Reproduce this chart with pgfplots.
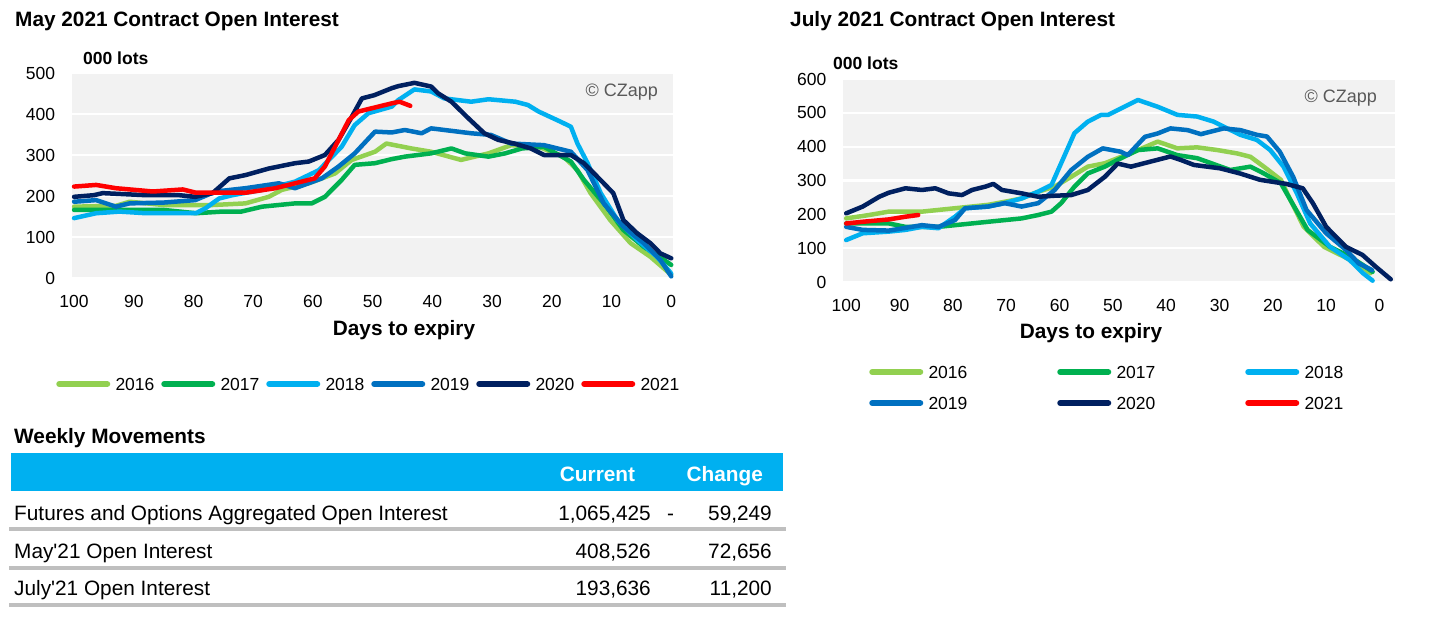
\documentclass[border=0pt]{standalone}
\usepackage{pgfplots}
\pgfplotsset{compat=1.18}
\usepackage{fontspec}
\setmainfont{Liberation Sans}
\newfontfamily\plainrm{Liberation Sans}
\definecolor{c16}{HTML}{92D050}
\definecolor{c17}{HTML}{00B050}
\definecolor{c18}{HTML}{00B0F0}
\definecolor{c19}{HTML}{0070C0}
\definecolor{c20}{HTML}{002060}
\definecolor{c21}{HTML}{FF0000}
\definecolor{bgc}{HTML}{F2F2F2}
\definecolor{tgray}{HTML}{BFBFBF}
\definecolor{cz}{HTML}{595959}
\newcommand{\tfont}{\bfseries\fontsize{20.8bp}{24bp}\selectfont}
\newcommand{\lfont}{\bfseries\fontsize{17.5bp}{20bp}\selectfont}
\newcommand{\nfont}{\fontsize{17.5bp}{20bp}\selectfont}
\newcommand{\rfont}{\fontsize{20.8bp}{24bp}\selectfont}
\pgfplotsset{
 oi/.style={
  scale only axis, x dir=reverse, clip=false,
  axis background/.style={fill=bgc},
  axis line style={draw=none},
  tick style={draw=none},
  ymajorgrids, major grid style={white, line width=2.2bp},
  xtick={0,10,...,100},
  /pgf/number format/assume math mode=true,
  tick label style={font=\nfont, text=black},
  yticklabel style={anchor=east, inner sep=0pt, xshift=-16.5bp},
  xticklabel style={anchor=north, inner sep=0pt, yshift=-17bp},
  every axis plot/.append style={line width=4.5bp, line join=round, line cap=round},
  legend image code/.code={\path (0bp,0bp) (54bp,0bp);\draw[#1, line width=6bp, line cap=round] (3bp,0bp) -- (51bp,0bp);},
 }
}
\begin{document}
\begin{tikzpicture}
\path[use as bounding box] (0bp,0bp) rectangle (1450bp,-640bp);
% ---------------- May chart
\begin{axis}[oi, width=601.3bp, height=205bp, at={(71.7bp,-278bp)}, anchor=south west,
  xmin=-0.3, xmax=100.4, ymin=0, ymax=500, ytick={0,100,...,500},
  legend columns=6,
  legend style={at={(-0.0294,-0.517)}, anchor=west, draw=none, fill=none, inner sep=0pt, outer sep=0pt,
    nodes={inner xsep=0pt, inner ysep=0pt, text width=39bp, text height=12.5bp, text depth=0pt, font=\nfont},
    /tikz/every odd column/.append style={column sep=3bp},
    /tikz/every even column/.append style={column sep=4.5bp}}]
\addplot[c16] coordinates {(100,174)(93,176)(90.7,186)(85,178)(76.8,178)(71.3,182)(67.4,198)(65.2,215)(60.7,231)(56.3,255)(53.5,288)(49.6,308)(47.7,328)(43.5,316)(40.2,308)(35.2,288)(30.6,304)(26.8,324)(22.2,320)(18,296)(15.7,263)(13.5,207)(10.2,141)(6.8,85)(3.5,52)(0,8)};
\addplot[c17] coordinates {(100,166)(90,166)(85,166)(79.6,158)(75.2,162)(72,162)(68.5,174)(63,182)(60.2,182)(58,198)(55.2,239)(53,276)(49.6,280)(46.8,290)(44.6,296)(40.2,304)(36.8,316)(34.5,304)(30.6,296)(27.8,304)(25,316)(21.3,320)(16.8,284)(14.6,239)(11.3,182)(8,117)(4.6,76)(1.2,44)(0,32)};
\addplot[c18] coordinates {(100,146)(96.3,158)(92.4,162)(88,158)(79.6,158)(78,170)(75.7,194)(73.5,202)(68.5,215)(63,235)(59,263)(55.2,320)(53,373)(50.7,402)(46.8,418)(45.7,434)(43,460)(40.2,455)(38,438)(33.5,430)(30.6,436)(26.1,430)(24,422)(22.2,406)(18.5,381)(16.8,369)(15.7,328)(14,280)(11.8,207)(9,141)(5.7,93)(2.4,52)(0,11)};
\addplot[c19] coordinates {(100,186)(96.3,190)(93,174)(90.7,182)(85,184)(79.7,190)(76.3,211)(71.3,219)(65.7,231)(63,219)(58.5,243)(55.7,272)(53,304)(49.6,357)(46.8,355)(44.6,361)(41.8,353)(40.2,365)(33.5,353)(30.2,349)(26.8,328)(21.3,324)(16.8,308)(14,263)(11.3,182)(8,125)(4.6,85)(1.8,44)(0,4)};
\addplot[c20] coordinates {(100,198)(96.7,202)(95.2,207)(88,202)(82.4,202)(79.7,198)(76.8,207)(74,243)(71.3,251)(67.4,267)(63,280)(60.7,284)(58,300)(55.7,337)(53.5,393)(51.8,438)(49.7,446)(46.8,463)(45.7,468)(43,476)(40.2,467)(39,450)(36.8,430)(34,390)(31.3,353)(29,337)(26.3,328)(23.5,316)(21.3,300)(16.8,300)(14.6,280)(11.3,231)(9.7,207)(8,141)(5.7,109)(3.5,85)(1.8,60)(0,48)};
\addplot[c21] coordinates {(100,223)(96.3,227)(93,219)(86.8,211)(81.8,216)(79.6,208)(71.3,208)(66.3,219)(63,231)(59.7,243)(58,272)(55.7,337)(54,385)(52.4,406)(46.8,426)(45.5,430)(43.7,420)};
\legend{2016,2017,2018,2019,2020,2021}
\end{axis}
% ---------------- July chart
\begin{axis}[oi, width=552bp, height=203bp, at={(843bp,-282bp)}, anchor=south west,
  xmin=-2.9, xmax=100.6, ymin=0, ymax=600, ytick={0,100,...,600},
  legend columns=3,
  legend style={at={(0.0435,-0.5197)}, anchor=west, draw=none, fill=none, inner sep=0pt, outer sep=0pt,
    nodes={inner xsep=0pt, inner ysep=0pt, text width=124bp, text height=12.5bp, text depth=0pt, font=\nfont},
    /tikz/every odd column/.append style={column sep=3bp},
    /tikz/every even column/.append style={column sep=2.5bp},
    /tikz/row sep=18.5bp}]
\addplot[c16] coordinates {(100,188)(95.7,198)(92,208)(85.8,208)(79.6,218)(73.4,228)(70.3,237)(67.1,247)(64,267)(60.9,282)(57.8,311)(54.7,341)(51.5,351)(49.1,366)(46,385)(41.6,415)(37.9,395)(34.2,398)(30.4,390)(26.7,380)(24.2,370)(21.7,341)(18.5,302)(16.7,242)(14.2,163)(10.4,104)(6.7,75)(4.2,55)(1.7,26)};
\addplot[c17] coordinates {(100,173)(92,173)(88.9,163)(82.7,163)(79.6,168)(73.4,178)(67.1,188)(64,198)(61.5,208)(59.7,233)(57.2,282)(54.7,321)(51.5,341)(49.1,361)(45.3,390)(41.6,395)(37.9,375)(34.2,366)(28,331)(24.2,341)(21.7,321)(18.5,292)(16,223)(13.5,154)(9.3,104)(5.6,75)(3.1,50)(1.3,30)};
\addplot[c18] coordinates {(100,124)(96.9,144)(92,149)(88.9,154)(85.8,163)(82.7,159)(79.6,193)(77.7,218)(73.4,223)(70.3,233)(67.1,247)(64,267)(61.5,287)(59.7,351)(57.2,440)(54.7,474)(52.2,494)(50.9,494)(49.1,508)(45.3,538)(41.6,518)(37.9,494)(34.2,489)(31.1,474)(29.2,459)(26.1,435)(23,420)(20.5,390)(18,341)(15.5,262)(13,173)(9.3,104)(5.6,65)(3.1,26)(1.3,4)};
\addplot[c19] coordinates {(100,163)(96.9,154)(92,152)(85.8,168)(82.7,163)(79.6,183)(77.7,218)(73.4,223)(70.3,233)(67.1,223)(64,233)(60.9,272)(57.8,331)(54.7,370)(51.9,395)(48.5,385)(47.2,375)(44,429)(41.6,439)(39.2,454)(36,449)(33.5,437)(29.2,454)(26.1,449)(23,435)(21.1,430)(18.7,385)(16.2,311)(13.7,213)(10,144)(6.3,95)(3.9,55)(1.4,35)};
\addplot[c20] coordinates {(100,203)(96.9,223)(93.8,252)(92,264)(88.9,277)(85.8,272)(83.3,277)(80.8,262)(78.3,257)(76.4,272)(73.9,282)(72.4,290)(70.8,272)(67.1,262)(64,252)(60.9,255)(57.8,257)(54.7,272)(51.5,311)(49.1,350)(46.6,341)(42.9,356)(39.2,371)(37.3,361)(34.8,346)(29.9,336)(26.2,321)(22.4,302)(17.5,290)(14.4,277)(12.5,233)(10,163)(6.3,104)(3.2,80)(0.7,45)(-2.1,8)};
\addplot[c21] coordinates {(100,173)(96.9,178)(92,185)(88.9,193)(86.5,198)};
\legend{2016,2017,2018,2019,2020,2021}
\end{axis}
% ---------------- texts
\node[anchor=base west, inner sep=0pt, font=\tfont] at (15bp,-26.7bp) {May 2021 Contract Open Interest};
\node[anchor=base west, inner sep=0pt, font=\tfont] at (790bp,-26.7bp) {July 2021 Contract Open Interest};
\node[anchor=base west, inner sep=0pt, font=\lfont] at (83bp,-64.3bp) {000 lots};
\node[anchor=base west, inner sep=0pt, font=\lfont] at (833bp,-69.3bp) {000 lots};
\node[anchor=base east, inner sep=0pt, font=\fontsize{18bp}{21bp}\selectfont, text=cz] at (658bp,-96.5bp) {© CZapp};
\node[anchor=base east, inner sep=0pt, font=\fontsize{18bp}{21bp}\selectfont, text=cz] at (1377bp,-102.5bp) {© CZapp};
\node[anchor=base, inner sep=0pt, font=\tfont] at (404bp,-335.5bp) {Days to expiry};
\node[anchor=base, inner sep=0pt, font=\tfont] at (1091bp,-338.5bp) {Days to expiry};
% ---------------- table
\node[anchor=base west, inner sep=0pt, font=\tfont] at (14bp,-443bp) {Weekly Movements};
\fill[c18] (11bp,-453bp) rectangle (783bp,-491bp);
\node[anchor=base, inner sep=0pt, font=\bfseries\rfont, text=white] at (597.5bp,-481.7bp) {Current};
\node[anchor=base, inner sep=0pt, font=\bfseries\rfont, text=white] at (724.7bp,-481.7bp) {Change};
\node[anchor=base west, inner sep=0pt, font=\rfont] at (14bp,-520bp) {Futures and Options Aggregated Open Interest};
\node[anchor=base east, inner sep=0pt, font=\rfont] at (651bp,-520bp) {1,065,425};
\node[anchor=base, inner sep=0pt, font=\rfont] at (670.7bp,-520bp) {-};
\node[anchor=base east, inner sep=0pt, font=\rfont] at (772bp,-520bp) {59,249};
\node[anchor=base west, inner sep=0pt, font=\rfont\plainrm] at (14bp,-558.3bp) {May'21 Open Interest};
\node[anchor=base east, inner sep=0pt, font=\rfont] at (651bp,-558.3bp) {408,526};
\node[anchor=base east, inner sep=0pt, font=\rfont] at (772bp,-558.3bp) {72,656};
\node[anchor=base west, inner sep=0pt, font=\rfont\plainrm] at (14bp,-595bp) {July'21 Open Interest};
\node[anchor=base east, inner sep=0pt, font=\rfont] at (651bp,-595bp) {193,636};
\node[anchor=base east, inner sep=0pt, font=\rfont] at (772bp,-595bp) {11,200};
\draw[tgray, line width=4bp] (9bp,-528.7bp) -- (786bp,-528.7bp);
\draw[tgray, line width=4bp] (9bp,-567.5bp) -- (786bp,-567.5bp);
\draw[tgray, line width=4bp] (9bp,-605.3bp) -- (786bp,-605.3bp);
\end{tikzpicture}
\end{document}
